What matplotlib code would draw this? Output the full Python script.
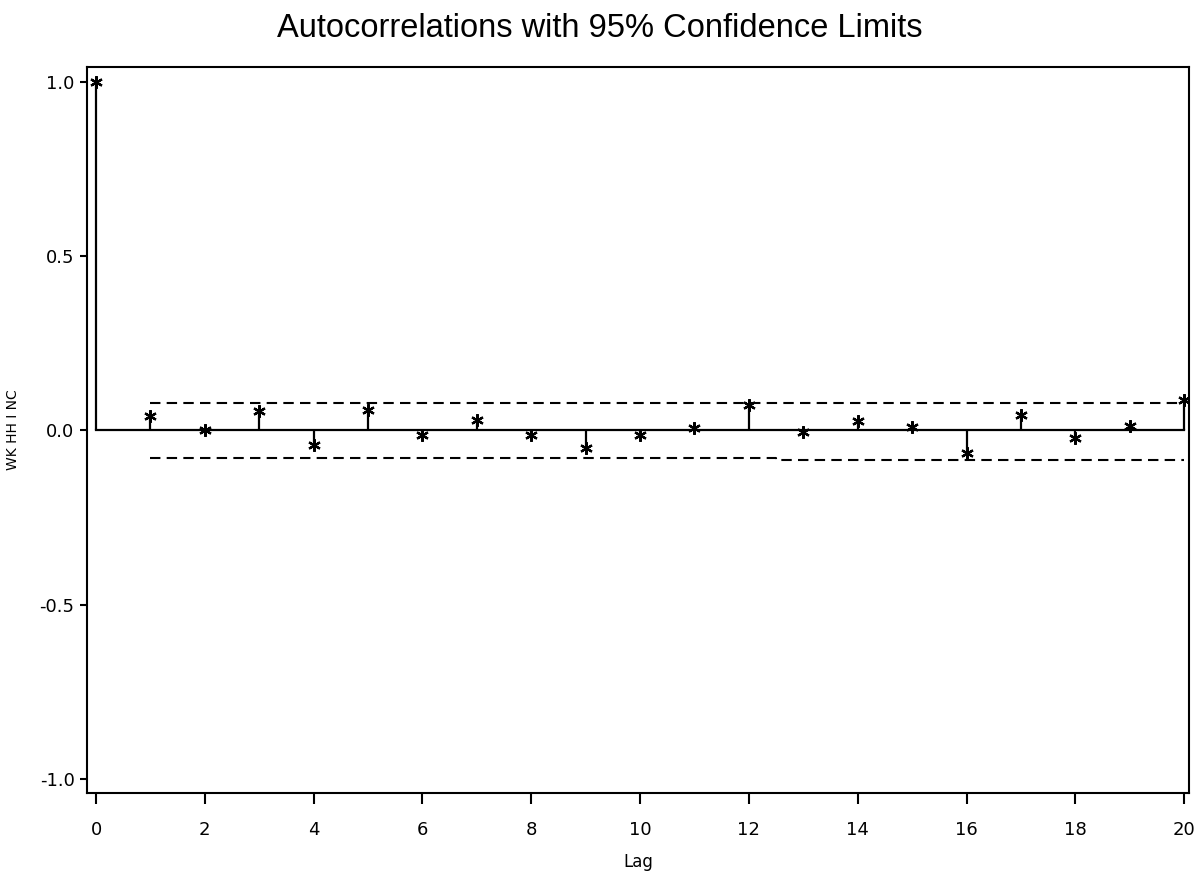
import matplotlib
matplotlib.use("Agg")
import matplotlib.pyplot as plt
import numpy as np

# autocorrelations
lags = list(range(21))
acf = [1.0, 0.043, 0.002, 0.055, -0.043, 0.059, -0.012, 0.031, -0.012, -0.051,
       -0.012, 0.007, 0.072, -0.003, 0.026, 0.011, -0.065, 0.045, -0.022, 0.013, 0.088]

# 95% confidence limits for lags 1..20
ci_lags = list(range(1, 21))
ci_upper = [0.080] * 20
ci_lower = [-0.078] * 12 + [-0.085] * 8

narrow = ["Liberation Sans Narrow", "DejaVu Sans"]

fig = plt.figure(figsize=(11.99, 8.81), dpi=100)
ax = fig.add_axes([0.0726, 0.0999, 0.9191, 0.8241])

# stems and zero line
ax.plot([0, 20], [0, 0], color="black", lw=1.6, zorder=2)
ax.vlines(lags, 0, acf, color="black", lw=1.6, zorder=2)
ax.plot(lags, acf, ls="none", marker=(6, 2, 0), ms=9, mew=1.6, color="black", zorder=3)

# confidence limits
ax.plot(ci_lags, ci_upper, color="black", ls=(0, (5, 3)), lw=1.5, drawstyle="steps-mid")
ax.plot(ci_lags, ci_lower, color="black", ls=(0, (5, 3)), lw=1.5, drawstyle="steps-mid")

ax.set_xlim(-0.165, 20.09)
ax.set_ylim(-1.040, 1.043)
ax.set_xticks(range(0, 21, 2))
ax.set_yticks([-1.0, -0.5, 0.0, 0.5, 1.0])
ax.set_yticklabels(["-1.0", "-0.5", "0.0", "0.5", "1.0"])
ax.tick_params(axis="x", direction="out", length=8, width=1.5, pad=12, labelsize=13)
ax.tick_params(axis="y", direction="out", length=5, width=1.5, pad=4, labelsize=13)
for lab in ax.get_xticklabels() + ax.get_yticklabels():
    lab.set_family(narrow)
for sp in ax.spines.values():
    sp.set_linewidth(1.5)

ax.set_xlabel("Lag", family=narrow, fontsize=12, labelpad=10)
ax.set_ylabel("WK HH I NC", family=narrow, fontsize=10, labelpad=14)

fig.suptitle("Autocorrelations with 95% Confidence Limits",
             family=["Liberation Sans", "DejaVu Sans"], fontsize=23.5, y=0.985)

fig.savefig("out.png", dpi=100)
